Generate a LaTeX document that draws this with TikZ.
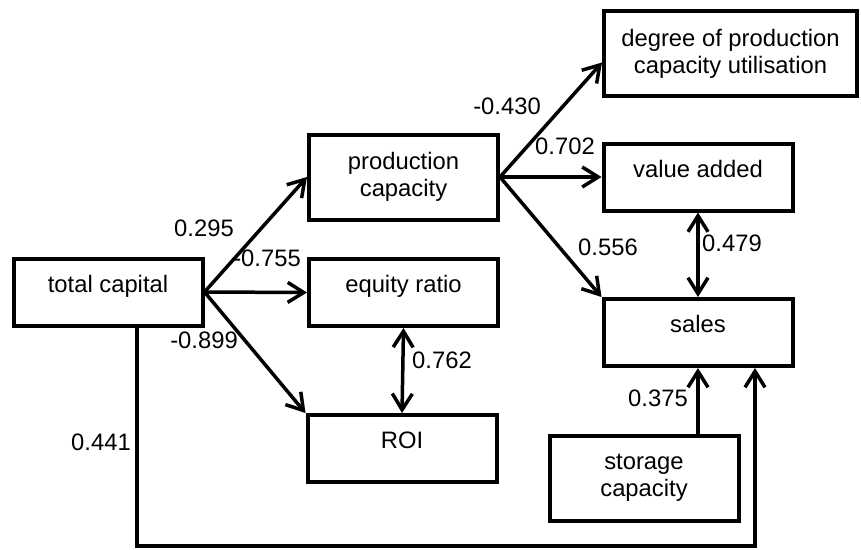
\documentclass[tikz,border=0pt]{standalone}
\usepackage{fontspec}
\setmainfont{Liberation Sans}
\usetikzlibrary{arrows.meta}

\begin{document}
\begin{tikzpicture}[x=1pt,y=-1pt,
  box/.style={draw,line width=4pt,minimum width=189pt,minimum height=67pt,align=center,font=\fontsize{23.8}{27}\selectfont},
  tall/.style={minimum height=85pt},
  oneline/.style={text height=12pt,text depth=12pt},
  lbl/.style={font=\fontsize{23.8}{27}\selectfont,inner sep=0pt},
  arr/.style={-{Straight Barb[length=16pt,width=20pt]},line width=3.5pt},
  dbl/.style={{Straight Barb[length=16pt,width=20pt]}-{Straight Barb[length=16pt,width=20pt]},line width=3.5pt}
]
\useasboundingbox (0,0) rectangle (861,549);

% Input
\node[box,oneline] (tc) at (108,292) {total capital};

% Middle column
\node[box,tall] (pc) at (403.5,177) {production\\capacity};
\node[box,oneline] (er) at (403.5,292.5) {equity ratio};
\node[box,oneline] (roi) at (402,448.5) {ROI};

% Right column
\node[box,tall,minimum width=253pt] (dpcu) at (730.5,53.5) {degree of production\\capacity utilisation};
\node[box,oneline] (va) at (698,177) {value added};
\node[box,oneline] (sales) at (698,332.5) {sales};
\node[box,tall] (sc) at (644,478) {storage\\capacity};

% Coefficients
\node[lbl] (k1) at (204,228) {0.295};
\node[lbl] (k2) at (267,258) {-0.755};
\node[lbl] (k3) at (204,340) {-0.899};
\node[lbl] (k4) at (101,442) {0.441};
\node[lbl] (k5) at (442,360) {0.762};
\node[lbl] (k6) at (507,106) {-0.430};
\node[lbl] (k7) at (565,146) {0.702};
\node[lbl] (k8) at (608,247) {0.556};
\node[lbl] (k9) at (732,243) {0.479};
\node[lbl] (k10) at (658,398) {0.375};

% Routing points
\coordinate (tcout) at ([xshift=29pt]tc.south);
\coordinate (salesin) at ([xshift=57pt]sales.south);
\coordinate (low) at (0,546);

\draw[arr] (tc.east) -- (pc.west);
\draw[arr] (tc.east) -- (er.west);
\draw[arr] (tc.east) -- (roi.north west);
\draw[arr] (pc.east) -- ([yshift=-9pt]dpcu.west);
\draw[arr] (pc.east) -- (va.west);
\draw[arr] (pc.east) -- (sales.north west);
\draw[dbl] (va.south) -- (sales.north);
\draw[dbl] (er.south) -- (roi.north);
\draw[arr] (sales.south |- sc.north) -- (sales.south);
\draw[arr] (tcout) -- (tcout |- low) -| (salesin);
\end{tikzpicture}
\end{document}
